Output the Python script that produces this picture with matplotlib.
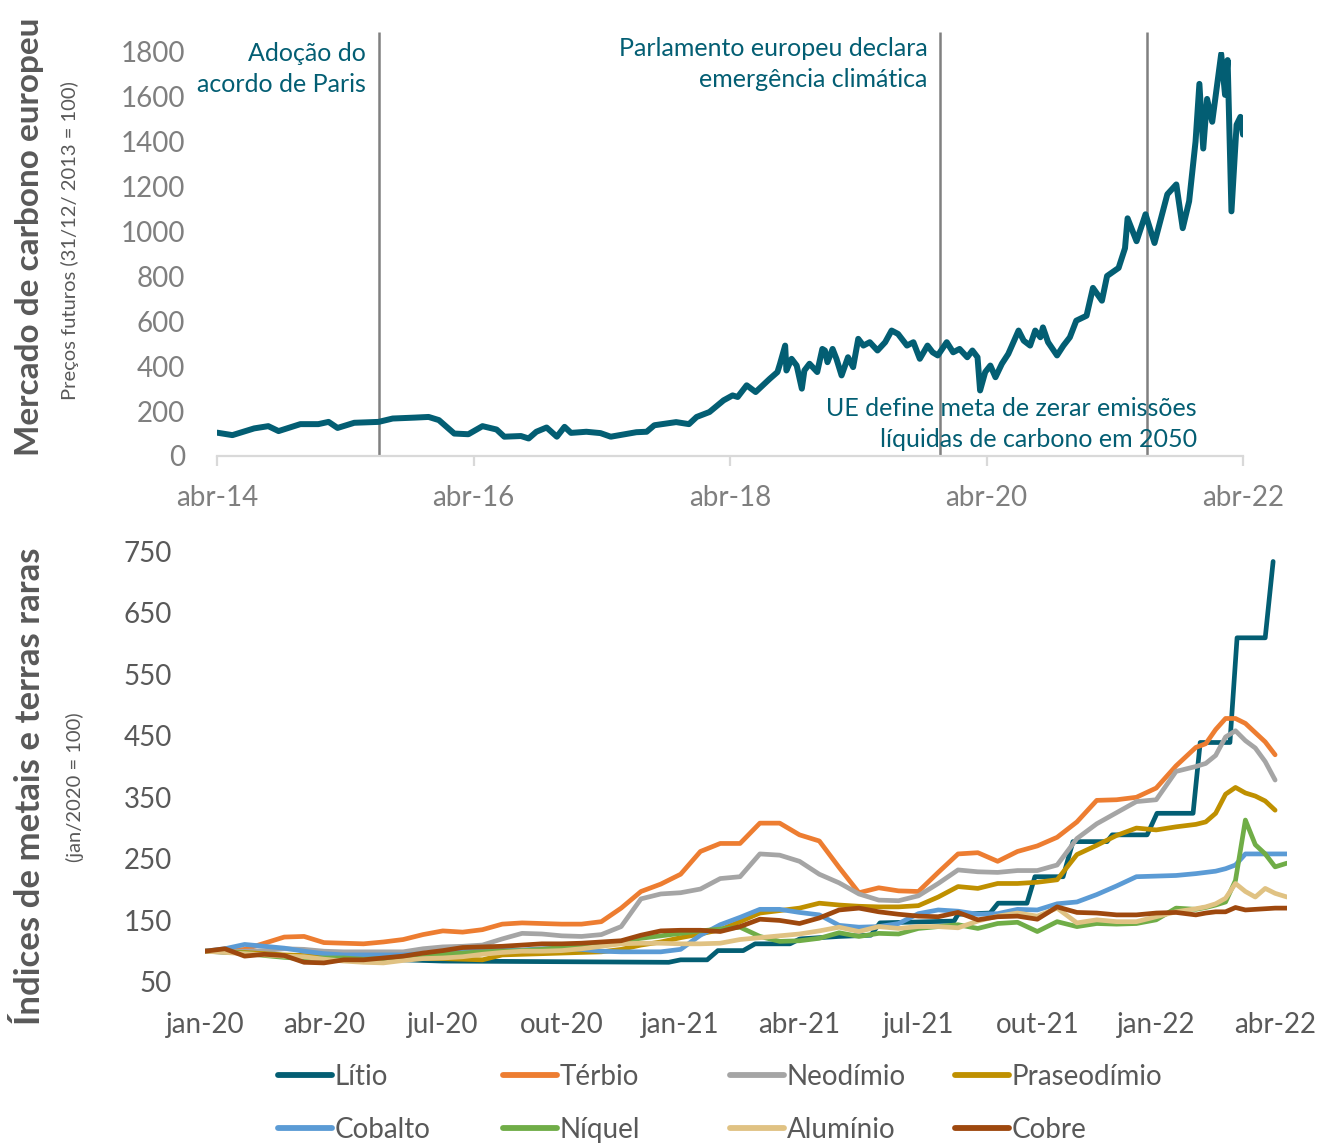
import numpy as np
import matplotlib
matplotlib.use("Agg")
import matplotlib.pyplot as plt
from matplotlib.lines import Line2D

plt.rcParams['font.family'] = ['Lato', 'DejaVu Sans']

# ---------------- Top panel data (index 31/12/2013 = 100) ----------------
carbono_t = [2014.25, 2014.37, 2014.54, 2014.65, 2014.73, 2014.90, 2015.04, 2015.12, 2015.19, 2015.32,
             2015.51, 2015.62, 2015.79, 2015.90, 2015.98, 2016.10, 2016.21, 2016.32, 2016.43, 2016.49,
             2016.62, 2016.68, 2016.74, 2016.82, 2016.90, 2016.96, 2017.01, 2017.13, 2017.24, 2017.32,
             2017.46, 2017.52, 2017.60, 2017.66, 2017.83, 2017.93,
             2017.99, 2018.09, 2018.20, 2018.27, 2018.31, 2018.38, 2018.45, 2018.56, 2018.62, 2018.64,
             2018.68, 2018.69, 2018.73, 2018.77, 2018.81, 2018.83, 2018.87, 2018.93, 2018.97, 2018.99,
             2019.01, 2019.05, 2019.08, 2019.12, 2019.17, 2019.21, 2019.25, 2019.29, 2019.34, 2019.40,
             2019.46, 2019.51, 2019.56, 2019.63, 2019.68, 2019.73, 2019.79, 2019.83, 2019.87, 2019.94,
             2019.99, 2020.04, 2020.10, 2020.14, 2020.18, 2020.20, 2020.24, 2020.28, 2020.32, 2020.37,
             2020.42, 2020.46, 2020.50, 2020.54, 2020.59, 2020.63, 2020.67, 2020.69, 2020.73, 2020.80,
             2020.85, 2020.90,
             2020.95, 2021.03, 2021.08, 2021.15, 2021.19, 2021.28, 2021.33, 2021.35,
             2021.42, 2021.49, 2021.56, 2021.66, 2021.73, 2021.78, 2021.83, 2021.88, 2021.91, 2021.94,
             2021.97, 2022.01, 2022.08, 2022.11, 2022.13, 2022.16, 2022.20, 2022.23, 2022.25]
carbono_v = [104, 93, 123, 133, 111, 142, 142, 152, 125, 148,
             152, 167, 171, 174, 160, 100, 97, 133, 118, 86,
             89, 78, 108, 127, 86, 130, 103, 108, 102, 86,
             100, 106, 108, 137, 151, 142,
             174, 196, 248, 270, 263, 315, 285, 344, 374, 411,
             492, 381, 433, 403, 300, 381, 411, 374, 477, 470,
             418, 477, 433, 359, 440, 396, 522, 492, 507, 470,
             507, 559, 544, 492, 507, 433, 492, 462, 448, 507,
             462, 477, 440, 470, 440, 292, 374, 403, 351, 411,
             455, 507, 559, 514, 492, 559, 529, 573, 507, 448,
             492, 529,
             603, 625, 749, 692, 802, 838, 926, 1059,
             957, 1077, 949, 1166, 1210, 1015, 1135, 1401, 1658, 1370,
             1591, 1489, 1791, 1609, 1764, 1090, 1476, 1511, 1432]

eventos_t = [2015.51, 2019.89, 2021.50]
eventos_txt = ["Adoção do\nacordo de Paris",
               "Parlamento europeu declara\nemergência climática",
               "UE define meta de zerar emissões\nlíquidas de carbono em 2050"]
top_xticks = [2014.25, 2016.25, 2018.25, 2020.25, 2022.25]
top_xlabels = ["abr-14", "abr-16", "abr-18", "abr-20", "abr-22"]
top_yticks = [0, 200, 400, 600, 800, 1000, 1200, 1400, 1600, 1800]

# ---------------- Bottom panel data (jan/2020 = 100) ----------------
# months since jan-2020
meses = list(np.arange(0, 25.01, 0.5)) + [25.25, 25.5, 25.75, 26.0, 26.25, 26.5, 26.75, 27.0]
meses_ext = meses + [27.3]

litio_t = [0, 1, 2, 3, 4, 5, 6, 11.7, 12.0, 12.67, 12.94, 13.58, 13.88, 14.76, 15.01, 16.0, 16.8,
           17.03, 18.9, 19.0, 19.81, 20.01, 20.74, 20.94, 21.65, 21.90, 22.76, 22.89, 23.77,
           24.02, 24.93, 25.11, 25.86, 26.04, 26.75, 26.95]
litio_v = [100, 97, 93, 90, 88, 86, 84, 82, 86, 86, 101, 101, 112, 112, 120, 124, 126,
           146, 149, 160, 162, 178, 178, 221, 221, 278, 278, 289, 289,
           324, 324, 439, 439, 609, 609, 733]

terbio = [100, 100, 103, 113, 123, 124, 114, 113, 112, 115,
          119, 127, 133, 131, 135, 144, 146, 145, 144, 144,
          148, 170, 197, 209, 225, 262, 275, 275, 308, 308,
          289, 279, 236, 195, 203, 198, 197, 228, 258, 260,
          246, 262, 271, 285, 310, 345, 346, 350, 365, 401,
          431, 437, 460, 478, 478, 470, 455, 440, 419]
neodimio = [100, 100, 100, 101, 104, 103, 100, 99, 99, 99,
            99, 104, 107, 108, 110, 120, 129, 128, 125, 124,
            127, 140, 185, 193, 195, 201, 218, 221, 258, 256,
            246, 225, 211, 193, 183, 182, 190, 210, 232, 229,
            228, 231, 231, 240, 283, 307, 325, 343, 346, 392,
            400, 405, 418, 448, 458, 442, 430, 408, 378]
praseodimio = [100, 99, 98, 96, 94, 93, 92, 90, 90, 89,
               89, 88, 88, 87, 86, 94, 95, 96, 97, 98,
               99, 103, 110, 115, 122, 128, 135, 148, 162, 166,
               170, 178, 175, 173, 172, 172, 174, 188, 205, 202,
               210, 210, 212, 216, 257, 272, 288, 300, 297, 302,
               306, 310, 324, 355, 366, 357, 352, 344, 329]
cobalto = [100, 104, 111, 108, 105, 100, 96, 94, 94, 94,
           94, 96, 98, 100, 101, 102, 102, 104, 105, 103,
           100, 99, 99, 99, 103, 126, 143, 155, 168, 168,
           163, 159, 142, 139, 140, 145, 161, 167, 165, 160,
           161, 168, 167, 177, 180, 192, 206, 221, 222, 223,
           226, 228, 230, 234, 240, 258, 258, 258, 258, 258]
niquel = [100, 99, 97, 93, 90, 88, 89, 89, 87, 88,
          90, 92, 95, 97, 99, 100, 101, 103, 106, 108,
          112, 116, 121, 125, 129, 133, 136, 139, 124, 116,
          117, 121, 130, 124, 129, 128, 137, 140, 143, 137,
          145, 147, 132, 148, 140, 145, 144, 145, 151, 170,
          168, 171, 175, 180, 215, 313, 273, 258, 237, 243]
aluminio = [100, 98, 96, 94, 92, 91, 87, 84, 82, 81,
            85, 88, 89, 91, 95, 98, 100, 100, 101, 104,
            108, 112, 113, 113, 112, 112, 113, 119, 122, 125,
            128, 133, 139, 132, 140, 137, 140, 140, 138, 149,
            157, 162, 157, 170, 146, 151, 148, 148, 156, 164,
            169, 172, 177, 186, 210, 197, 188, 202, 194, 188]
cobre = [100, 104, 92, 95, 93, 82, 81, 86, 86, 89,
         92, 97, 101, 106, 107, 108, 110, 112, 112, 113,
         115, 117, 126, 133, 134, 134, 132, 140, 152, 150,
         145, 154, 167, 170, 164, 160, 157, 156, 163, 151,
         156, 157, 152, 172, 163, 162, 159, 159, 162, 163,
         159, 162, 164, 164, 171, 167, 168, 169, 170, 170]

bot_xticks = [0, 3, 6, 9, 12, 15, 18, 21, 24, 27]
bot_xlabels = ["jan-20", "abr-20", "jul-20", "out-20", "jan-21",
               "abr-21", "jul-21", "out-21", "jan-22", "abr-22"]
bot_yticks = [50, 150, 250, 350, 450, 550, 650, 750]

series = [
    ("Lítio", litio_t, litio_v, "#035E73"),
    ("Térbio", meses, terbio, "#ED7D31"),
    ("Neodímio", meses, neodimio, "#A5A5A5"),
    ("Praseodímio", meses, praseodimio, "#BF9000"),
    ("Cobalto", meses_ext, cobalto, "#5B9BD5"),
    ("Níquel", meses_ext, niquel, "#70AD47"),
    ("Alumínio", meses_ext, aluminio, "#E0C283"),
    ("Cobre", meses_ext, cobre, "#9E480E"),
]

W, H = 1319, 1143
fig = plt.figure(figsize=(W / 100, H / 100), dpi=100)

TEAL = "#035E73"
DARK = "#595959"
GRAY = "#7F7F7F"

# ---------------- Top axes ----------------
ax1 = fig.add_axes([217 / W, 1 - 456 / H, (1243 - 217) / W, (456 - 52) / H])
ax1.plot(carbono_t, carbono_v, color=TEAL, lw=4.3, solid_joinstyle='round', solid_capstyle='round', zorder=3)
ax1.set_xlim(2014.25, 2022.25)
ax1.set_ylim(0, 1800)
ax1.vlines(eventos_t, 0, 1890, colors="#808080", lw=1.8, clip_on=False, zorder=2)
offsets = [-9, -9, 36]
ypos = [1724, 1746, 142]
for t, txt, dx, yv in zip(eventos_t, eventos_txt, offsets, ypos):
    ax1.annotate(txt, xy=(t, yv), xytext=(dx, 0), textcoords='offset points',
                 ha='right', va='center', multialignment='right', fontsize=18,
                 color=TEAL, linespacing=1.42, zorder=4)
for s in ['top', 'right', 'left']:
    ax1.spines[s].set_visible(False)
ax1.spines['bottom'].set_color("#D9D9D9")
ax1.spines['bottom'].set_linewidth(1.6)
ax1.set_xticks(top_xticks)
ax1.set_xticklabels(top_xlabels)
ax1.set_yticks(top_yticks)
ax1.tick_params(axis='x', colors="#D9D9D9", length=7, width=1.6, pad=14, labelsize=20, labelcolor=GRAY)
ax1.tick_params(axis='y', length=0, pad=23, labelsize=20, labelcolor=GRAY)

fig.text(30 / W, 1 - 237 / H, "Mercado de carbono europeu", rotation=90, ha='center', va='center',
         fontsize=24, fontweight='bold', color=DARK)
fig.text(70 / W, 1 - 241 / H, "Preços futuros (31/12/ 2013 = 100)", rotation=90, ha='center', va='center',
         fontsize=14.5, color=DARK)

# ---------------- Bottom axes ----------------
ax2 = fig.add_axes([205 / W, 1 - 982 / H, (1287 - 205) / W, (982 - 551) / H])
handles = {}
for name, t, v, c in series:
    ln, = ax2.plot(t, v, color=c, lw=3.4, solid_joinstyle='round', solid_capstyle='round')
    handles[name] = ln
ax2.set_xlim(0, 27.3)
ax2.set_ylim(50, 750)
for s in ax2.spines.values():
    s.set_visible(False)
ax2.set_xticks(bot_xticks)
ax2.set_xticklabels(bot_xlabels)
ax2.set_yticks(bot_yticks)
ax2.tick_params(axis='x', length=0, pad=21.5, labelsize=20, labelcolor=DARK)
ax2.tick_params(axis='y', length=0, pad=24, labelsize=20, labelcolor=DARK)

fig.text(30 / W, 1 - 786 / H, "Índices de metais e terras raras", rotation=90, ha='center', va='center',
         fontsize=25, fontweight='bold', color=DARK)
fig.text(75 / W, 1 - 787 / H, "(jan/2020 = 100)", rotation=90, ha='center', va='center',
         fontsize=14.5, color=DARK)

# ---------------- Legend (4 columns x 2 rows) ----------------
cols = [("Lítio", "Cobalto"), ("Térbio", "Níquel"), ("Neodímio", "Alumínio"), ("Praseodímio", "Cobre")]
col_x = [278, 503, 730, 955]
for (a, b), xpx in zip(cols, col_x):
    hs = []
    for nm in (a, b):
        c = handles[nm].get_color()
        hs.append(Line2D([], [], color=c, lw=4.2, solid_capstyle='round'))
    leg = fig.legend(hs, [a, b], loc='upper left', bbox_to_anchor=(xpx / W, 1 - 1064 / H),
                     frameon=False, fontsize=20, handlelength=1.95, handletextpad=0.1,
                     labelspacing=0.96, borderpad=0, borderaxespad=0)
    for tx in leg.get_texts():
        tx.set_color(DARK)

fig.savefig("out.png", dpi=100)
